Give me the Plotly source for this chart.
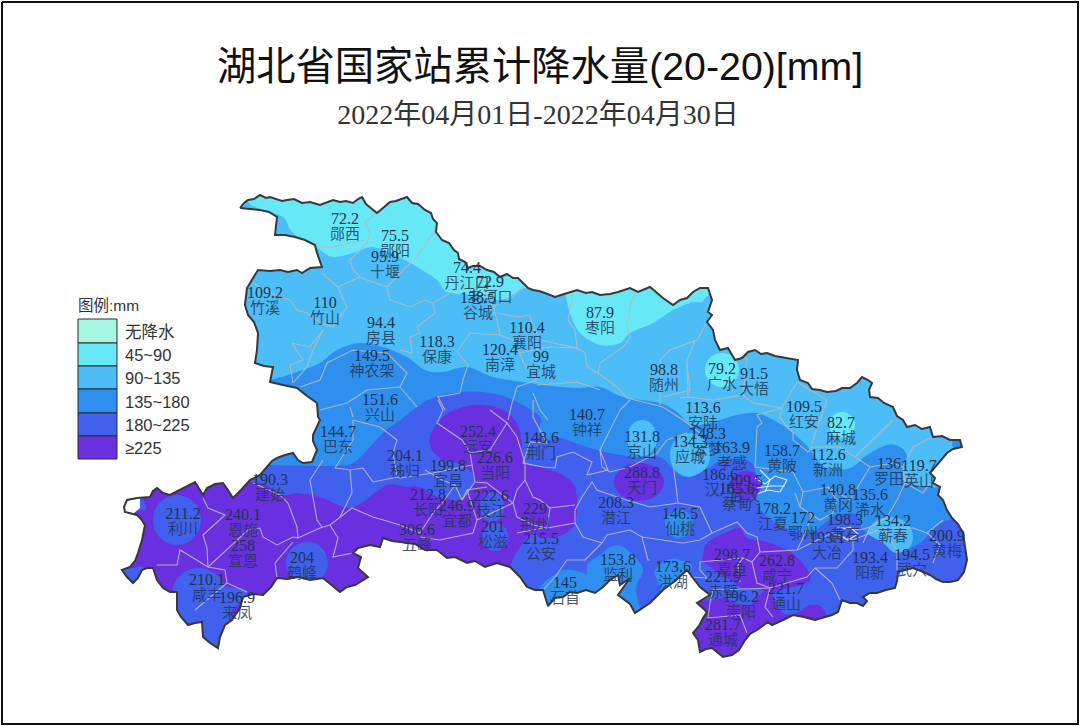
import plotly.graph_objects as go

# ---------- text ----------
title_text = "湖北省国家站累计降水量(20-20)[mm]"
subtitle_text = "2022年04月01日-2022年04月30日"
legend_title = "图例:mm"
legend_labels = ["无降水", "45~90", "90~135", "135~180", "180~225", "≥225"]
legend_colors = ["#A6F7DF", "#66E8F7", "#4DBDF7", "#2E8FEE", "#4060EE", "#6A30DF"]
legend_edges = [319, 343, 366, 389, 413, 436, 459]

# ---------- stations: accumulated precipitation, map position ----------
station_names = ["郧西","郧阳","十堰","竹溪","竹山","房县","丹江口","老河口","谷城","保康","南漳","襄阳","宜城","枣阳","随州",
    "神农架","兴山","巴东","钟祥","京山","荆门","远安","当阳","秭归","宜昌","长阳","宜都","枝江","荆州","松滋","公安","五峰",
    "建始","利川","恩施","宣恩","鹤峰","咸丰","来凤","石首","监利","洪湖","仙桃","潜江","天门","应城","安陆","云梦","孝感",
    "汉川","蔡甸","武汉","江夏","鄂州","黄陂","红安","麻城","新洲","大悟","广水","罗田","英山","黄冈","浠水","蕲春","黄石",
    "阳新","大冶","武穴","黄梅","嘉鱼","咸宁","赤壁","通山","崇阳","通城"]
station_values = ["72.2","75.5","95.9","109.2","110","94.4","74.4","72.9","138.5","118.3","120.4","110.4","99","87.9","98.8",
    "149.5","151.6","144.7","140.7","131.8","148.6","252.4","226.6","204.1","199.8","212.8","246.9","222.6","229","201","215.5","306.6",
    "190.3","211.2","240.1","258","204","210.1","196.9","145","153.8","173.6","146.5","208.3","288.8","134.3","113.6","148.3","163.9",
    "186.6","165.6","209.5","178.2","172","158.7","109.5","82.7","112.6","91.5","79.2","136","119.7","140.8","135.6","134.2","198.3",
    "193.4","193.1","194.5","200.9","298.7","262.8","221.9","221.7","196.2","281.7"]
station_x = [345,395,385,265,325,381,467,490,478,437,500,527,541,600,664,
    372,380,338,587,642,541,478,495,405,448,428,457,491,535,493,541,417,
    270,183,243,243,302,207,237,565,618,673,680,616,642,690,703,708,732,
    720,737,745,773,803,782,804,841,828,754,722,889,919,838,870,893,845,
    870,827,912,947,732,777,723,786,741,723]
station_y = [220,237,258,294,304,324,269,283,299,343,351,329,358,314,371,
    357,401,433,416,438,439,433,459,457,467,496,507,497,510,528,540,531,
    481,515,516,547,559,581,599,584,561,568,515,504,474,443,409,435,449,
    476,490,482,510,519,452,408,424,456,375,370,465,467,491,496,522,521,
    559,539,556,537,556,562,578,590,598,626]

# ---------- map geometry in map units ----------
province = [(240,208),(244,203),(248,200),(254,199),(260,195),(266,198),(270,197),(277,199),(282,201),(287,200),(294,199),(302,203),(310,202),(320,205),
 (326,203),(333,200),(340,202),(346,201),(353,203),(358,199),(362,197),(366,204),(372,209),(377,213),(383,208),(390,202),(396,201),(407,197),(412,203),
 (418,204),(425,210),(431,213),(433,219),(437,223),(436,232),(442,240),(449,243),(454,250),(458,253),(459,259),(465,262),(468,268),(473,266),(480,266),
 (487,270),(494,272),(500,277),(507,274),(513,278),(518,278),(523,283),(528,288),(533,290),(539,291),(545,293),(555,297),(561,295),(567,293),(577,290),
 (586,293),(592,292),(600,295),(610,294),(618,292),(630,288),(638,292),(650,287),(656,292),(663,298),(673,305),(680,300),(687,298),(693,292),(700,288),
 (708,288),(712,300),(708,312),(712,315),(707,322),(713,330),(715,340),(720,350),(728,348),(735,360),(742,358),(748,352),(755,350),(761,354),(767,353),
 (775,356),(785,358),(798,360),(797,370),(800,380),(808,383),(812,389),(820,390),(827,392),(836,391),(842,388),(850,388),(857,383),(862,377),(868,380),
 (872,383),(869,390),(870,397),(878,398),(884,403),(893,407),(897,416),(903,420),(907,427),(915,425),(922,429),(930,427),(933,437),(942,436),(950,440),
 (960,440),(962,447),(953,449),(947,453),(941,460),(936,466),(930,473),(935,478),(933,483),(940,487),(938,495),(943,500),(947,510),(952,518),(958,524),
 (963,533),(965,545),(967,560),(964,572),(958,580),(950,582),(943,582),(936,579),(930,575),(921,571),(913,568),(905,570),(898,572),(897,581),(895,588),
 (886,590),(877,593),(870,593),(863,597),(867,601),(863,606),(857,603),(850,603),(842,600),(838,612),(832,615),(825,617),(815,620),(804,617),(793,615),
 (783,620),(772,625),(768,622),(757,630),(750,634),(745,640),(739,650),(732,655),(723,657),(712,648),(706,649),(700,652),(698,640),(693,633),(699,626),
 (703,618),(707,612),(697,603),(710,595),(700,587),(693,578),(687,570),(675,581),(663,590),(650,603),(635,613),(630,604),(618,595),(630,578),(620,585),
 (618,575),(610,580),(603,587),(595,593),(586,590),(577,593),(570,592),(563,597),(555,598),(548,606),(543,590),(535,590),(527,587),(520,577),(510,567),
 (497,563),(485,567),(475,561),(467,563),(455,557),(447,558),(437,550),(425,550),(415,544),(400,542),(392,541),(383,538),(380,547),(370,545),(358,548),
 (353,553),(361,557),(358,568),(368,577),(355,585),(347,587),(340,592),(332,585),(323,578),(310,580),(298,577),(287,579),(277,578),(271,587),(263,595),
 (253,594),(243,597),(240,608),(232,620),(225,625),(220,637),(218,648),(210,643),(203,637),(202,622),(195,623),(188,625),(181,617),(177,610),(177,592),
 (170,592),(163,588),(157,580),(153,568),(147,568),(142,570),(138,578),(133,583),(127,577),(122,570),(130,567),(135,561),(138,553),(142,540),(145,525),
 (141,519),(137,515),(125,512),(124,507),(127,500),(137,498),(150,497),(153,491),(157,488),(163,493),(170,495),(182,489),(195,482),(203,495),(207,488),
 (215,484),(223,483),(228,490),(233,498),(241,490),(250,480),(260,475),(266,468),(272,461),(277,458),(285,455),(293,453),(298,460),(303,463),(312,462),
 (317,450),(313,441),(313,435),(320,420),(318,417),(317,403),(307,396),(297,388),(283,385),(270,382),(273,367),(264,366),(255,363),(257,350),(258,333),
 (254,322),(248,315),(245,305),(247,288),(253,278),(258,270),(270,271),(280,270),(288,272),(297,270),(302,273),(310,268),(322,267),(319,259),(317,253),
 (315,245),(305,240),(295,237),(285,235),(275,235),(276,226),(277,217),(269,212),(260,210),(250,209)]

zone_45_north = [(248,200),(263,210),(283,217),(293,233),(317,248),(333,257),(353,253),(373,247),(397,256),(417,267),(437,280),(447,292),(473,295),
 (500,300),(520,290),(540,270),(480,170),(260,170)]
zone_45_east = [(565,290),(570,313),(580,333),(600,345),(620,343),(630,333),(653,323),(673,310),(693,302),(704,300),(712,270),(565,270)]
zone_135 = [(200,395),(270,380),(297,372),(320,363),(337,350),(360,343),(383,347),(407,357),(425,370),(443,372),(467,367),(493,377),(523,382),(543,385),
 (577,388),(600,387),(623,397),(660,403),(677,412),(690,424),(705,424),(720,420),(737,415),(757,413),(777,422),(793,433),(808,447),(815,457),(827,468),(850,468),
 (867,455),(887,445),(900,447),(907,457),(903,480),(930,487),(960,490),(1000,520),(1000,700),(200,700)]
zone_180 = [(100,465),(250,465),(333,466),(353,463),(367,450),(383,433),(400,420),(420,405),(433,398),(460,392),(490,393),(513,400),(540,417),(538,432),(550,440),
 (560,438),(597,450),(633,457),(660,457),(677,473),(690,477),(710,467),(723,460),(747,460),(755,470),(755,495),(763,513),(790,530),(810,533),(820,527),
 (837,515),(857,515),(863,530),(883,543),(897,553),(920,543),(930,533),(950,520),(1000,520),(1000,700),(100,700)]
zone_225_west = [(146,480),(253,482),(280,495),(297,493),(320,497),(347,508),(363,502),(387,485),(407,487),(420,487),(437,497),(443,497),(458,500),(472,487),(472,473),
 (457,463),(443,460),(432,450),(430,437),(443,417),(463,407),(483,405),(503,410),(517,423),(522,443),(525,463),(543,468),(563,475),(575,487),(577,510),(573,527),(557,537),
 (540,537),(533,533),(520,547),(510,570),(510,620),(250,625),(248,592),(227,587),(217,575),(200,568),(183,573),(173,587),(178,600),(165,600),(143,580),(143,567),
 (125,567),(118,540),(120,520),(140,510),(146,508)]
zone_225_south = [(697,603),(712,600),(725,598),(735,603),(750,605),(757,597),(768,590),(773,597),(783,613),(797,613),(810,605),(825,612),(835,660),(680,670),(688,625)]
zone_225_jiayu = [(703,555),(708,542),(727,532),(740,528),(747,538),(767,542),(787,550),(800,560),(810,575),(807,583),(788,588),(770,593),(757,588),(743,588),(730,580),(705,563)]
zone_135_jianli = [(587,572),(600,555),(617,545),(633,555),(643,570),(636,590),(642,625),(610,625)]
zone_135_shishou = [(540,592),(557,573),(573,570),(597,580),(602,595),(570,615)]
zone_135_honghu = [(655,570),(667,560),(680,560),(692,568),(667,595),(658,582)]
blank_corner = [(125,500),(140,497),(140,508),(134,513),(123,513)]

# blobs: centre x, centre y, half width, half height
blobs_45 = [(722,370,17,17),(842,425,13,13)]
blobs_90 = [(642,438,15,18),(690,455,20,22),(890,537,23,20)]
blobs_135 = [(679,524,14,14),(958,444,6,6)]
blobs_180 = [(177,520,24,25),(307,563,21,21),(492,507,12,15),(495,537,13,14)]
blobs_225 = [(639,482,25,19),(746,485,15,14)]

county_lines = [
 [(377,213),(365,222),(370,233),(367,243),(350,260),(353,270),(360,277),(367,280),(387,287),(403,270),(420,253),(433,233),(437,223)],
 [(317,247),(333,247),(365,240)],
 [(253,283),(268,292),(290,300),(297,310),(307,313),(320,322),(333,327),(347,307),(338,287),(360,277)],
 [(322,273),(338,287)],
 [(323,330),(310,347),(292,343),(303,360),(290,365),(293,383)],
 [(323,330),(313,350),(307,367),(293,383)],
 [(300,387),(320,380),(327,363),(353,350),(387,353),(407,373),(400,387),(417,407)],
 [(320,410),(347,403),(367,390),(400,387)],
 [(350,407),(353,417)],
 [(387,287),(390,300),(410,307),(425,300),(433,303),(455,290),(482,287),(477,267)],
 [(433,303),(435,313),(417,327),(420,333),(410,337),(412,353),(400,350)],
 [(482,287),(493,307),(497,320),(500,335),(470,333),(457,352),(468,365),(463,380),(460,393),(438,397),(445,410)],
 [(493,307),(513,297),(523,285)],
 [(498,313),(517,317),(530,315),(533,327),(540,340),(577,348),(575,330),(568,320),(573,293)],
 [(500,335),(513,340),(520,353),(523,362),(537,380),(517,387),(512,403),(508,420)],
 [(520,353),(547,347),(577,348),(585,353),(587,367),(598,373),(617,387),(627,398),(663,407),(683,420),(700,433)],
 [(537,385),(577,382),(600,390)],
 [(533,393),(540,410),(548,420)],
 [(598,373),(600,363),(623,347),(630,338),(627,327),(630,307),(635,293)],
 [(660,405),(660,360),(670,350),(697,340),(707,322)],
 [(687,363),(690,390),(663,397)],
 [(695,340),(687,360),(688,397),(680,398)],
 [(688,397),(713,400),(743,395),(747,357)],
 [(743,395),(753,403),(782,408),(797,382),(827,400),(812,443)],
 [(782,408),(780,418),(793,433),(793,440),(808,452),(812,447),(840,447),(855,457),(893,420)],
 [(855,457),(870,467),(893,463),(903,467),(913,447),(933,437)],
 [(903,467),(905,483),(923,493),(930,483)],
 [(905,483),(897,500),(887,517),(870,527),(863,543)],
 [(870,467),(850,500),(828,487),(803,492),(793,472),(755,467),(757,427),(762,423),(757,415),(782,408)],
 [(803,492),(800,507),(795,493)],
 [(800,507),(812,515),(802,540),(797,550)],
 [(828,487),(837,500),(833,513),(820,520),(812,515)],
 [(837,527),(860,530),(870,527)],
 [(712,533),(737,522),(747,533),(757,537),(760,552),(797,550),(832,533),(853,540),(853,550),(837,568),(815,568),(807,577),(770,588),(757,583),(752,562),(760,552)],
 [(815,568),(832,583),(840,600)],
 [(853,540),(883,528),(897,550),(897,570)],
 [(883,528),(913,528),(927,533),(943,520)],
 [(927,533),(940,545),(933,563)],
 [(770,588),(765,607),(773,617)],
 [(770,588),(713,590),(710,603),(708,618),(740,615),(747,633)],
 [(752,562),(743,558),(738,565),(740,582)],
 [(743,558),(700,562),(700,570),(707,578),(690,577)],
 [(650,560),(648,560),(642,537),(630,530),(607,535),(602,543),(585,560),(567,560),(555,577),(543,590)],
 [(642,537),(683,543),(700,540),(712,533)],
 [(630,400),(620,410),(600,450),(608,470),(587,475),(592,462),(573,452),(557,457),(555,468),(543,467),(523,463),(530,442),(547,443),(533,417),(533,400)],
 [(600,450),(602,467),(610,472),(630,467),(657,453),(667,440),(687,433)],
 [(673,463),(678,503),(650,507),(620,498),(597,490),(592,482),(582,497),(575,510),(575,523),(583,537),(602,543)],
 [(575,523),(547,528),(550,508),(575,505)],
 [(678,503),(700,507),(712,533)],
 [(525,463),(525,480),(533,497),(540,500),(550,508)],
 [(525,480),(517,490),(513,503),(517,517),(533,525),(547,528)],
 [(517,533),(543,528)],
 [(513,503),(477,520),(473,533),(440,540),(420,537)],
 [(513,503),(487,483),(475,482),(472,465),(470,453),(462,440),(437,423),(443,410),(438,400)],
 [(470,453),(490,450),(507,423),(490,410)],
 [(507,423),(517,437),(525,463)],
 [(472,465),(433,473),(400,478),(397,477)],
 [(475,482),(462,500),(455,485),(442,480),(425,470)],
 [(462,500),(467,490),(487,487)],
 [(455,485),(443,502),(433,513),(420,533),(400,525)],
 [(477,520),(467,490)],
 [(253,483),(280,495),(288,503),(297,527),(298,538),(320,528),(330,525),(340,517),(352,508),(373,517),(400,525)],
 [(323,460),(310,480),(317,520),(322,527)],
 [(335,468),(350,470),(352,493),(340,517)],
 [(350,470),(363,468),(373,482),(397,477),(393,453),(397,440),(380,427),(353,420)],
 [(335,468),(353,440),(353,420)],
 [(203,498),(208,508),(225,515),(203,535),(207,548),(208,567),(180,550),(177,565),(157,565)],
 [(208,567),(232,545),(248,530),(260,528),(263,537),(277,545),(293,537),(298,538)],
 [(293,542),(275,563),(277,578)],
 [(208,567),(225,570),(227,583),(195,610)],
 [(227,583),(247,592)],
 [(330,525),(338,538),(333,557),(353,553)],
]
wuhan_lines = [
 [(755,478),(765,484),(775,476),(787,480),(780,492),(768,490),(757,494)],
 [(760,470),(770,480),(765,492)],
 [(757,488),(770,486),(785,486)],
 [(840,530),(850,527),(858,534),(848,540),(840,536)],
]

# ---------- helpers ----------
def smooth_path(pts):
    """Closed Catmull-Rom outline as an SVG path through the listed points."""
    n = len(pts)
    d = f"M{pts[0][0]},{pts[0][1]}"
    for i in range(n):
        p0, p1, p2, p3 = pts[i - 1], pts[i], pts[(i + 1) % n], pts[(i + 2) % n]
        c1 = (p1[0] + (p2[0] - p0[0]) / 6, p1[1] + (p2[1] - p0[1]) / 6)
        c2 = (p2[0] - (p3[0] - p1[0]) / 6, p2[1] - (p3[1] - p1[1]) / 6)
        d += f" C{c1[0]:.1f},{c1[1]:.1f} {c2[0]:.1f},{c2[1]:.1f} {p2[0]},{p2[1]}"
    return d + " Z"

C45, C90, C135, C180, C225 = legend_colors[1:]
shapes = []
def add_zone(pts, color):
    shapes.append(dict(type="path", path=smooth_path(pts), xref="x", yref="y", fillcolor=color,
                       line=dict(width=0), layer="below"))
def add_blobs(items, color):
    for cx, cy, rx, ry in items:
        shapes.append(dict(type="circle", xref="x", yref="y", x0=cx - rx, x1=cx + rx, y0=cy - ry, y1=cy + ry,
                           fillcolor=color, line=dict(width=0), layer="below"))

shapes.append(dict(type="rect", xref="x", yref="y", x0=100, x1=1000, y0=170, y1=700, fillcolor=C90,
                   line=dict(width=0), layer="below"))
add_zone(zone_45_north, C45)
add_zone(zone_45_east, C45)
add_blobs(blobs_45, C45)
add_zone(zone_135, C135)
add_blobs(blobs_90, C90)
add_zone(zone_180, C180)
add_blobs(blobs_135[:1], C135)
add_zone(zone_135_jianli, C135)
add_zone(zone_135_shishou, C135)
add_zone(zone_135_honghu, C135)
add_zone(zone_225_west, C225)
add_zone(zone_225_south, C225)
add_zone(zone_225_jiayu, C225)
add_blobs(blobs_225, C225)
add_blobs(blobs_180, C180)
add_blobs(blobs_135[1:], C135)

fig = go.Figure()

# white mask outside the province (outer ring wound against the province ring)
outer = [(0, 0), (0, 726), (1080, 726), (1080, 0), (0, 0)]
ring = province + province[:1]
fig.add_trace(go.Scatter(x=[p[0] for p in outer] + [None] + [p[0] for p in ring],
                         y=[p[1] for p in outer] + [None] + [p[1] for p in ring],
                         mode="none", fill="toself", fillcolor="white", hoverinfo="skip"))
fig.add_trace(go.Scatter(x=[p[0] for p in blank_corner], y=[p[1] for p in blank_corner], mode="none",
                         fill="toself", fillcolor="white", hoverinfo="skip"))

# county boundaries
for group, color in ((county_lines, "rgba(185,185,185,0.9)"), (wuhan_lines, "rgba(235,235,235,0.95)")):
    xs, ys = [], []
    for line in group:
        xs += [p[0] for p in line] + [None]
        ys += [p[1] for p in line] + [None]
    fig.add_trace(go.Scatter(x=xs, y=ys, mode="lines", line=dict(color=color, width=1.1), hoverinfo="skip"))

# province boundary
fig.add_trace(go.Scatter(x=[p[0] for p in ring], y=[p[1] for p in ring], mode="lines",
                         line=dict(color="#383838", width=2), hoverinfo="skip"))

# legend boxes
for i, color in enumerate(legend_colors):
    fig.add_trace(go.Scatter(x=[78, 117, 117, 78, 78],
                             y=[legend_edges[i], legend_edges[i], legend_edges[i + 1], legend_edges[i + 1], legend_edges[i]],
                             mode="lines", fill="toself", fillcolor=color,
                             line=dict(color="#2a2a2a", width=1), hoverinfo="skip"))
fig.add_trace(go.Scatter(x=[125] * len(legend_labels),
                         y=[(legend_edges[i] + legend_edges[i + 1]) / 2 + 2.5 for i in range(len(legend_labels))],
                         mode="text", text=legend_labels, textposition="middle right",
                         textfont=dict(family="Liberation Sans, Noto Sans CJK SC", size=16.5, color="#333333"), hoverinfo="skip"))
fig.add_trace(go.Scatter(x=[78], y=[307], mode="text", text=[legend_title], textposition="middle right",
                         textfont=dict(family="Liberation Sans, Noto Sans CJK SC", size=15.5, color="#333333"), hoverinfo="skip"))

# station labels
label_font = dict(family="Liberation Serif, Noto Sans CJK SC", size=16, color="#1f3350")
fig.add_trace(go.Scatter(x=station_x, y=station_y, mode="text", text=station_values, textposition="middle center",
                         textfont=label_font, hoverinfo="skip"))
fig.add_trace(go.Scatter(x=station_x, y=[v + 15 for v in station_y], mode="text", text=station_names,
                         textposition="middle center",
                         textfont=dict(family="Noto Sans CJK SC", size=15, color="rgba(35,55,85,0.85)"), hoverinfo="skip"))

# titles
fig.add_trace(go.Scatter(x=[540], y=[70], mode="text", text=[title_text], textposition="middle center",
                         textfont=dict(family="Liberation Sans, Noto Sans CJK SC", size=39.3, color="#111111"), hoverinfo="skip"))
fig.add_trace(go.Scatter(x=[538], y=[117], mode="text", text=[subtitle_text], textposition="middle center",
                         textfont=dict(family="Liberation Serif, Noto Sans CJK SC", size=28, color="#333333"), hoverinfo="skip"))

# picture frame
fig.add_trace(go.Scatter(x=[2, 1078, 1078, 2, 2], y=[2, 2, 724, 724, 2], mode="lines",
                         line=dict(color="#111111", width=2), hoverinfo="skip"))

fig.update_layout(width=1080, height=726, margin=dict(l=0, r=0, t=0, b=0), showlegend=False,
                  paper_bgcolor="white", plot_bgcolor="rgba(0,0,0,0)", shapes=shapes,
                  xaxis=dict(range=[0, 1080], visible=False, fixedrange=True),
                  yaxis=dict(range=[726, 0], visible=False, fixedrange=True))
fig.write_html("out.html", config=dict(displayModeBar=False),
               post_script="document.body.style.margin='0';document.body.style.overflow='hidden';")
